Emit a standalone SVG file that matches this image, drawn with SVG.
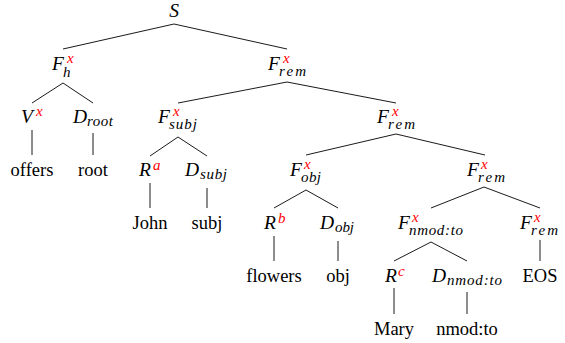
<svg xmlns="http://www.w3.org/2000/svg" width="565" height="343" viewBox="0 0 565 343" font-family="Liberation Serif, Times New Roman, DejaVu Serif, serif">
<style>
.m{font-style:italic;font-size:19.5px;fill:#000}
.sb{font-style:italic;font-size:15px;fill:#000}
.sp{font-style:italic;font-size:15px;fill:#f00}
.w{font-size:18.5px;fill:#000;text-anchor:middle}
#edges line{stroke:#000;stroke-width:0.9}
</style>
<rect width="565" height="343" fill="#fff"/>
<g id="edges">
<line x1="174" y1="24" x2="63" y2="49"/>
<line x1="174" y1="24" x2="287" y2="49"/>
<line x1="63" y1="83" x2="32" y2="103"/>
<line x1="63" y1="83" x2="93" y2="103"/>
<line x1="32" y1="130" x2="32" y2="155"/>
<line x1="93" y1="133" x2="93" y2="155"/>
<line x1="287" y1="82" x2="178" y2="103"/>
<line x1="287" y1="82" x2="396" y2="103"/>
<line x1="178" y1="137" x2="150" y2="156"/>
<line x1="178" y1="137" x2="207" y2="156"/>
<line x1="150" y1="183" x2="150" y2="208"/>
<line x1="207" y1="188" x2="207" y2="208"/>
<line x1="396" y1="134" x2="306" y2="155"/>
<line x1="396" y1="134" x2="485" y2="155"/>
<line x1="306" y1="190" x2="274" y2="208"/>
<line x1="306" y1="190" x2="338" y2="208"/>
<line x1="274" y1="236" x2="274" y2="261"/>
<line x1="338" y1="241" x2="338" y2="261"/>
<line x1="484" y1="187" x2="431" y2="208"/>
<line x1="484" y1="187" x2="540" y2="208"/>
<line x1="431" y1="242" x2="394" y2="261"/>
<line x1="431" y1="242" x2="467" y2="261"/>
<line x1="540" y1="240" x2="540" y2="261"/>
<line x1="394" y1="288" x2="394" y2="314"/>
<line x1="467" y1="292" x2="467" y2="314"/>
</g>
<g id="S"><text class="m" x="174" y="17" text-anchor="middle">S</text></g>
<g id="Fh"><text class="m" x="52" y="70">F<tspan class="sp" x="67" y="63">x</tspan><tspan class="sb" x="63" y="77">h</tspan></text></g>
<g id="Frem1"><text class="m" x="268" y="70">F<tspan class="sp" x="283" y="63">x</tspan><tspan class="sb" x="279" y="76" textLength="27">rem</tspan></text></g>
<g id="V"><text class="m" x="21" y="123">V<tspan class="sp" x="36" y="116">x</tspan></text></g>
<g id="Droot"><text class="m" x="73" y="123">D<tspan class="sb" x="87" y="126" textLength="26">root</tspan></text></g>
<g id="Fsubj"><text class="m" x="158" y="123">F<tspan class="sp" x="173" y="116">x</tspan><tspan class="sb" x="169" y="129" textLength="28">subj</tspan></text></g>
<g id="Frem2"><text class="m" x="377" y="123">F<tspan class="sp" x="392" y="116">x</tspan><tspan class="sb" x="388" y="129" textLength="27">rem</tspan></text></g>
<g id="offers"><text class="w" x="32" y="176">offers</text></g>
<g id="root"><text class="w" x="93" y="176">root</text></g>
<g id="Ra"><text class="m" x="139" y="176">R<tspan class="sp" x="153" y="170">a</tspan></text></g>
<g id="Dsubj"><text class="m" x="185" y="176">D<tspan class="sb" x="200" y="179" textLength="27">subj</tspan></text></g>
<g id="Fobj"><text class="m" x="290" y="176">F<tspan class="sp" x="304" y="169">x</tspan><tspan class="sb" x="301" y="182" textLength="20">obj</tspan></text></g>
<g id="Frem3"><text class="m" x="467" y="176">F<tspan class="sp" x="481" y="169">x</tspan><tspan class="sb" x="478" y="182" textLength="27">rem</tspan></text></g>
<g id="John"><text class="w" x="150" y="229">John</text></g>
<g id="subj"><text class="w" x="207" y="229">subj</text></g>
<g id="Rb"><text class="m" x="264" y="229">R<tspan class="sp" x="278" y="223">b</tspan></text></g>
<g id="Dobj"><text class="m" x="320" y="229">D<tspan class="sb" x="335" y="232" textLength="19">obj</tspan></text></g>
<g id="Fnmod"><text class="m" x="398" y="229">F<tspan class="sp" x="412" y="222">x</tspan><tspan class="sb" x="409" y="235" textLength="54">nmod:to</tspan></text></g>
<g id="Frem4"><text class="m" x="520" y="229">F<tspan class="sp" x="534" y="222">x</tspan><tspan class="sb" x="531" y="235" textLength="27">rem</tspan></text></g>
<g id="flowers"><text class="w" x="274" y="282">flowers</text></g>
<g id="obj"><text class="w" x="338" y="282">obj</text></g>
<g id="Rc"><text class="m" x="385" y="282">R<tspan class="sp" x="398" y="276">c</tspan></text></g>
<g id="Dnmod"><text class="m" x="432" y="282">D<tspan class="sb" x="447" y="285" textLength="55">nmod:to</tspan></text></g>
<g id="EOS"><text class="w" x="540" y="282">EOS</text></g>
<g id="Mary"><text class="w" x="394" y="335">Mary</text></g>
<g id="nmodto"><text class="w" x="467" y="335">nmod:to</text></g>
</svg>
